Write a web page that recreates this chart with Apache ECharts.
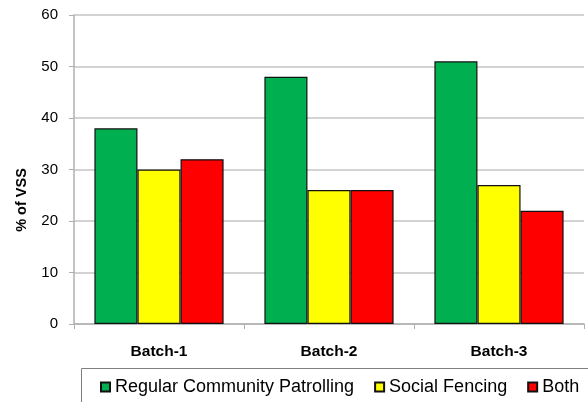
<!DOCTYPE html>
<html>
<head>
<meta charset="utf-8">
<script src="https://cdn.jsdelivr.net/npm/echarts@6/dist/echarts.min.js"></script>
<style>html,body{margin:0;padding:0;background:#fff;}#c{width:588px;height:402px;}</style>
</head>
<body>
<div id="c"></div>
<script>
var categories = ['Batch-1', 'Batch-2', 'Batch-3'];
var seriesNames = ['Regular Community Patrolling', 'Social Fencing', 'Both'];
var patrolling = [38, 48, 51];
var fencing = [30, 26, 27];
var both = [32, 26, 22];
var yTicks = [0, 10, 20, 30, 40, 50, 60];

var colors = ['#00B050', '#FFFF00', '#FF0000'];
var values = [patrolling, fencing, both];

var chart = echarts.init(document.getElementById('c'), null, {renderer: 'canvas'});
var font = 'Liberation Sans, Arial, sans-serif';
chart.setOption({
  animation: false,
  textStyle: {fontFamily: font},
  grid: {left: 74, right: 4, top: 15, bottom: 78, containLabel: false},
  legend: {
    left: 100, top: 378, padding: 0, itemGap: 20,
    itemWidth: 9, itemHeight: 9, icon: 'rect',
    textStyle: {fontSize: 18, color: '#000', fontFamily: font},
    data: seriesNames
  },
  graphic: [
    {type: 'rect', shape: {x: 81.5, y: 368.5, width: 600, height: 60},
     style: {fill: 'none', stroke: '#808080', lineWidth: 1}, silent: true},
    {type: 'text', x: 22, y: 200, rotation: Math.PI / 2,
     style: {text: '% of VSS', font: 'bold 14.5px ' + font, fill: '#000', textAlign: 'center', textVerticalAlign: 'middle'}}
  ],
  xAxis: {
    type: 'category', data: categories, boundaryGap: true,
    axisLine: {lineStyle: {color: '#b0b0b0', width: 1.5}},
    axisTick: {show: true, length: 5, alignWithLabel: false, lineStyle: {color: '#b0b0b0'}},
    axisLabel: {fontSize: 15.5, fontWeight: 'bold', color: '#000', margin: 20}
  },
  yAxis: {
    type: 'value', min: 0, max: 60, interval: 10,
    axisLine: {show: true, lineStyle: {color: '#b0b0b0', width: 1.5}},
    axisTick: {show: true, length: 5, lineStyle: {color: '#b0b0b0'}},
    axisLabel: {fontSize: 15, color: '#000', margin: 16,
      formatter: function (v) { return yTicks.indexOf(v) >= 0 ? String(v) : ''; }},
    splitLine: {show: true, lineStyle: {color: '#c4c4c4', width: 1.5}}
  },
  series: seriesNames.map(function (n, i) {
    return {
      name: n, type: 'bar', data: values[i],
      barGap: '0%', barCategoryGap: '24%',
      itemStyle: {color: colors[i], borderColor: '#111', borderWidth: 1.2}
    };
  })
});
</script>
</body>
</html>
